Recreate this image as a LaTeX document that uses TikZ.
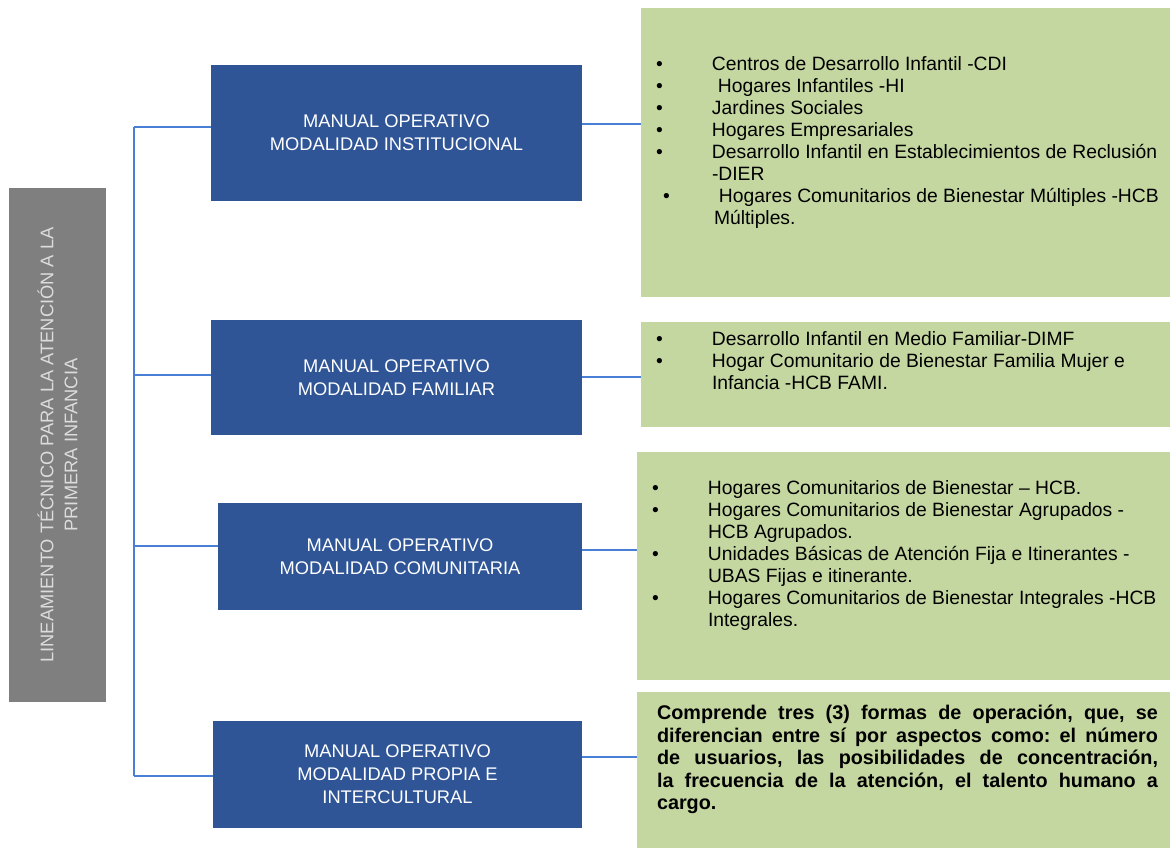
\documentclass[tikz,border=0pt]{standalone}
\usepackage{fontspec}
\setmainfont{Liberation Sans}
\frenchspacing
\definecolor{bluebox}{HTML}{2F5597}
\definecolor{greenbox}{HTML}{C5D7A0}
\definecolor{graybox}{HTML}{7F7F7F}
\definecolor{graytxt}{HTML}{DCDCDC}
\definecolor{connblue}{HTML}{4A7FD6}
\newcommand{\bitem}[1]{\makebox[56pt][l]{\textbullet}#1\\}
\newcommand{\bcont}[1]{\hspace*{56pt}#1\\}
\begin{document}
\begin{tikzpicture}[x=1pt,y=-1pt,
  bbox/.style={fill=bluebox,draw=none,inner sep=0pt,outer sep=0pt,text=white,align=center,
    font=\fontsize{18.3}{23}\selectfont},
  gbox/.style={fill=greenbox,draw=none,inner sep=0pt,outer sep=0pt},
  gtext/.style={anchor=north west,inner sep=0pt,outer sep=0pt,align=left,
    font=\fontsize{19.3}{22}\selectfont},
  conn/.style={draw=connblue,line width=1.5pt}]
\useasboundingbox (0,0) rectangle (1170,848);
% gray box
\node[fill=graybox,draw=none,inner sep=0pt,minimum width=97pt,minimum height=514pt] (g) at (57.5,445) {};
\node[rotate=90,align=center,text=graytxt,inner sep=0pt,font=\fontsize{18.3}{24}\selectfont] (gt) at (g.center)
  {LINEAMIENTO TÉCNICO PARA LA ATENCIÓN A LA\\PRIMERA INFANCIA};
% blue boxes
\node[bbox,minimum width=371pt,minimum height=136pt] (b1) at (396.5,133) {MANUAL OPERATIVO\\MODALIDAD INSTITUCIONAL};
\node[bbox,minimum width=371pt,minimum height=115pt] (b2) at (396.5,377.5) {MANUAL OPERATIVO\\MODALIDAD FAMILIAR};
\node[bbox,minimum width=364pt,minimum height=107pt] (b3) at (400,556.5) {MANUAL OPERATIVO\\MODALIDAD COMUNITARIA};
\node[bbox,minimum width=369pt,minimum height=107pt] (b4) at (397.5,774.5) {MANUAL OPERATIVO\\MODALIDAD PROPIA E\\INTERCULTURAL};
% green boxes
\node[gbox,minimum width=529pt,minimum height=289pt] (G1) at (905.5,152.5) {};
\node[gbox,minimum width=529pt,minimum height=105pt] (G2) at (905.5,374.5) {};
\node[gbox,minimum width=533pt,minimum height=228pt] (G3) at (903.5,566) {};
\node[gbox,minimum width=533pt,minimum height=156pt] (G4) at (903.5,770) {};
% texts
\node[gtext] (T1) at (656,57) {%
\bitem{Centros de Desarrollo Infantil -CDI}
\bitem{\hspace*{6pt}Hogares Infantiles -HI}
\bitem{Jardines Sociales}
\bitem{Hogares Empresariales}
\bitem{Desarrollo Infantil en Establecimientos de Reclusión}
\bcont{-DIER}
\hspace*{7pt}\makebox[49pt][l]{\textbullet}\hspace*{7pt}Hogares Comunitarios de Bienestar Múltiples -HCB\\
\hspace*{58pt}Múltiples.};
\node[gtext] (T2) at (656,332) {%
\bitem{Desarrollo Infantil en Medio Familiar-DIMF}
\bitem{Hogar Comunitario de Bienestar Familia Mujer e}
\hspace*{56pt}Infancia -HCB FAMI.};
\node[gtext] (T3) at (652,480.5) {%
\bitem{Hogares Comunitarios de Bienestar -- HCB.}
\bitem{Hogares Comunitarios de Bienestar Agrupados -}
\bcont{HCB Agrupados.}
\bitem{Unidades Básicas de Atención Fija e Itinerantes -}
\bcont{UBAS Fijas e itinerante.}
\bitem{Hogares Comunitarios de Bienestar Integrales -HCB}
\hspace*{56pt}Integrales.};
\node[gtext,font=\fontsize{19.8}{22.5}\selectfont\bfseries] (T4) at (657,705) {%
\makebox[501pt][s]{Comprende tres (3) formas de operación, que, se}\\
\makebox[501pt][s]{diferencian entre sí por aspectos como: el número}\\
\makebox[501pt][s]{de usuarios, las posibilidades de concentración,}\\
\makebox[501pt][s]{la frecuencia de la atención, el talento humano a}\\
cargo.};
% connectors left
\coordinate (t1) at (134,127);
\coordinate (t2) at (134,375);
\coordinate (t3) at (134,546);
\coordinate (t4) at (134,776);
\draw[conn] (t1) -- (t4);
\draw[conn] (t1) -- (t1 -| b1.west);
\draw[conn] (t2) -- (t2 -| b2.west);
\draw[conn] (t3) -- (t3 -| b3.west);
\draw[conn] (t4) -- (t4 -| b4.west);
% connectors right
\draw[conn] ([yshift=9pt]b1.east) -- ([yshift=9pt]b1.east -| G1.west);
\draw[conn] ([yshift=0.5pt]b2.east) -- ([yshift=0.5pt]b2.east -| G2.west);
\draw[conn] ([yshift=6.5pt]b3.east) -- ([yshift=6.5pt]b3.east -| G3.west);
\draw[conn] ([yshift=17.5pt]b4.east) -- ([yshift=17.5pt]b4.east -| G4.west);
\end{tikzpicture}
\end{document}
